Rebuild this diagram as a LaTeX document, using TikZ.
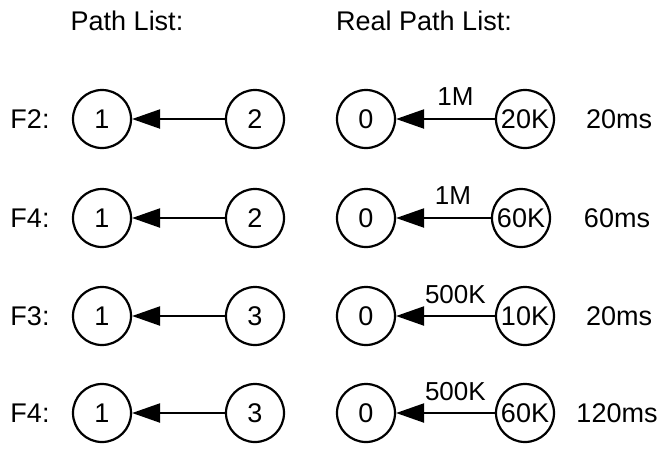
\documentclass[tikz,border=0pt]{standalone}
\usepackage{fontspec}
\setmainfont{Liberation Sans}
\usetikzlibrary{arrows.meta}

\tikzset{
  station/.style={draw, circle, line width=2.2pt, minimum size=58pt, inner sep=0pt},
  link/.style={line width=2.2pt, {Triangle[length=28pt,width=19pt]}-},
  txt/.style={inner sep=0pt},
  rate/.style={inner sep=0pt, font=\fontsize{26}{30}\selectfont}
}

\begin{document}
\begin{tikzpicture}[x=1pt,y=-1pt,font=\fontsize{27}{31}\selectfont]
\useasboundingbox (0,0) rectangle (660,448);

\node[txt] (h1) at (127,21) {Path List:};
\node[txt] (h2) at (424,21) {Real Path List:};

% path list
\node[txt] (f1) at (30,119) {F2:};
\node[txt] (f2) at (30,218) {F4:};
\node[txt] (f3) at (30,316) {F3:};
\node[txt] (f4) at (30,413) {F4:};

\node[station] (a1) at (102,119) {1};
\node[station] (b1) at (255,119) {2};
\node[station] (a2) at (102,218) {1};
\node[station] (b2) at (255,218) {2};
\node[station] (a3) at (102,316) {1};
\node[station] (b3) at (255,316) {3};
\node[station] (a4) at (102,413) {1};
\node[station] (b4) at (255,413) {3};

\draw[link] (a1) -- (b1);
\draw[link] (a2) -- (b2);
\draw[link] (a3) -- (b3);
\draw[link] (a4) -- (b4);

% real path list
\node[station] (c1) at (366,119) {0};
\node[station] (d1) at (525,119) {20K};
\node[station] (c2) at (366,218) {0};
\node[station] (d2) at (521,218) {60K};
\node[station] (c3) at (366,316) {0};
\node[station] (d3) at (525,316) {10K};
\node[station] (c4) at (366,413) {0};
\node[station] (d4) at (525,413) {60K};

\draw[link] (c1) -- node[pos=0.6, above=12pt, rate] {1M} (d1);
\draw[link] (c2) -- node[pos=0.6, above=12pt, rate] {1M} (d2);
\draw[link] (c3) -- node[pos=0.6, above=11pt, rate] {500K} (d3);
\draw[link] (c4) -- node[pos=0.6, above=11pt, rate] {500K} (d4);

\node[txt] (t1) at (619,119) {20ms};
\node[txt] (t2) at (617,218) {60ms};
\node[txt] (t3) at (619,316) {20ms};
\node[txt] (t4) at (617,413) {120ms};
\end{tikzpicture}
\end{document}
